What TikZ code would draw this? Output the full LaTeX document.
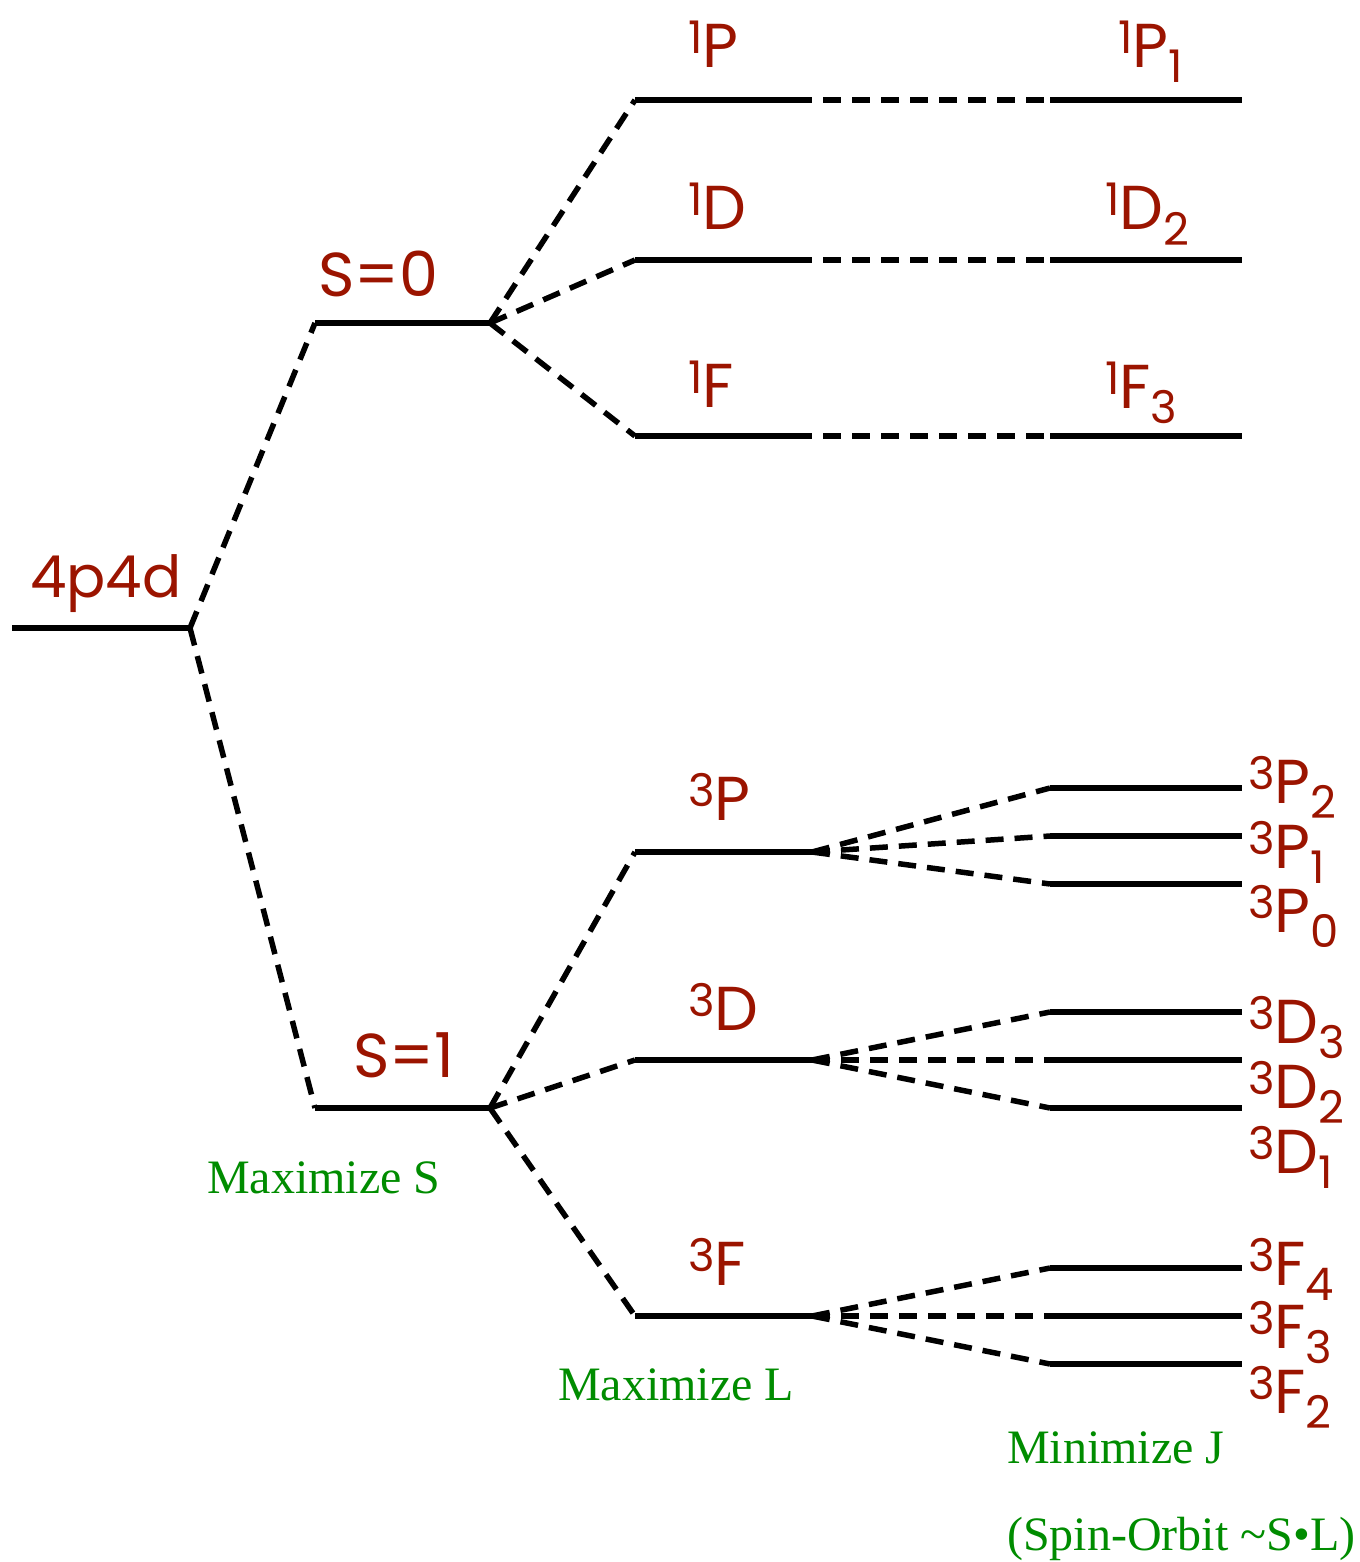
\documentclass[tikz,border=0pt]{standalone}
\usepackage{fontspec}
\setmainfont{Liberation Serif}
\newfontfamily\termfont{Poppins}
\definecolor{termred}{RGB}{155,20,0}
\definecolor{rulegreen}{RGB}{0,140,0}
\newcommand\bigterm{\termfont\fontsize{62}{62}\selectfont}
\newcommand\smallterm{\termfont\fontsize{45}{45}\selectfont}
% term symbol: superscript multiplicity, letter, subscript J
\newcommand\tsym[3]{\raisebox{14pt}{\smallterm #1}#2\raisebox{-15pt}{\smallterm #3}}

\begin{document}
\begin{tikzpicture}[x=1pt,y=-1pt,
  level/.style={line width=6.5pt},
  link/.style={line width=5.5pt, dash pattern=on 18pt off 11pt},
  flatlink/.style={link, dash phase=18pt},
  term/.style={text=termred, font=\bigterm, inner sep=0pt, anchor=base west},
  rulelbl/.style={text=rulegreen, font=\fontsize{48}{48}\selectfont, inner sep=0pt, anchor=base west}]
\useasboundingbox (0,0) rectangle (1359,1562);

% ---- level end points ----
\coordinate (g-l) at (12,628);   \coordinate (g-r) at (190,628);
\coordinate (s0-l) at (315,323); \coordinate (s0-r) at (490,323);
\coordinate (s1-l) at (315,1108);\coordinate (s1-r) at (490,1108);
\coordinate (p1-l) at (635,100); \coordinate (p1-r) at (812,100);
\coordinate (d1-l) at (635,260); \coordinate (d1-r) at (812,260);
\coordinate (f1-l) at (635,436); \coordinate (f1-r) at (812,436);
\coordinate (p1j-l) at (1050,100); \coordinate (p1j-r) at (1242,100);
\coordinate (d1j-l) at (1050,260); \coordinate (d1j-r) at (1242,260);
\coordinate (f1j-l) at (1050,436); \coordinate (f1j-r) at (1242,436);
\coordinate (p3-l) at (635,852);  \coordinate (p3-r) at (812,852);
\coordinate (d3-l) at (635,1060); \coordinate (d3-r) at (812,1060);
\coordinate (f3-l) at (635,1316); \coordinate (f3-r) at (812,1316);
\coordinate (p32-l) at (1050,788);  \coordinate (p32-r) at (1242,788);
\coordinate (p31-l) at (1050,836);  \coordinate (p31-r) at (1242,836);
\coordinate (p30-l) at (1050,884);  \coordinate (p30-r) at (1242,884);
\coordinate (d33-l) at (1050,1012); \coordinate (d33-r) at (1242,1012);
\coordinate (d32-l) at (1050,1060); \coordinate (d32-r) at (1242,1060);
\coordinate (d31-l) at (1050,1108); \coordinate (d31-r) at (1242,1108);
\coordinate (f34-l) at (1050,1268); \coordinate (f34-r) at (1242,1268);
\coordinate (f33-l) at (1050,1316); \coordinate (f33-r) at (1242,1316);
\coordinate (f32-l) at (1050,1364); \coordinate (f32-r) at (1242,1364);

% ---- levels ----
\foreach \lv in {g,s0,s1,p1,d1,f1,p1j,d1j,f1j,p3,d3,f3,p32,p31,p30,d33,d32,d31,f34,f33,f32}
  \draw[level] (\lv-l) -- (\lv-r);

% ---- dashed correlation lines ----
\draw[link] (g-r) -- (s0-l);
\draw[link] (g-r) -- (s1-l);
\foreach \t in {p1,d1,f1} \draw[link] (s0-r) -- (\t-l);
\foreach \t in {p3,d3,f3} \draw[link] (s1-r) -- (\t-l);
\draw[flatlink] (p1-r) -- (p1j-l);
\draw[flatlink] (d1-r) -- (d1j-l);
\draw[flatlink] (f1-r) -- (f1j-l);
\foreach \t in {p32,p31,p30} \draw[link] (p3-r) -- (\t-l);
\foreach \t in {d33,d32,d31} \draw[link] (d3-r) -- (\t-l);
\foreach \t in {f34,f33,f32} \draw[link] (f3-r) -- (\t-l);

% ---- configuration and terms ----
\node[term, font=\termfont\fontsize{58}{58}\selectfont] (cfg) at (30,597) {4p4d};
\node[term] (lbl-s0) at (318,296) {S=0};
\node[term] (lbl-s1) at (353,1077) {S=1};
\node[term] (lbl-p1) at (688,68) {\tsym{1}{P}{}};
\node[term] (lbl-d1) at (688,230) {\tsym{1}{D}{}};
\node[term] (lbl-f1) at (688,407) {\tsym{1}{F}{}};
\node[term] (lbl-p1j) at (1118,68) {\tsym{1}{P}{1}};
\node[term] (lbl-d1j) at (1105,230) {\tsym{1}{D}{2}};
\node[term] (lbl-f1j) at (1105,408) {\tsym{1}{F}{3}};
\node[term] (lbl-p3) at (688,820) {\tsym{3}{P}{}};
\node[term] (lbl-d3) at (688,1030) {\tsym{3}{D}{}};
\node[term] (lbl-f3) at (688,1285) {\tsym{3}{F}{}};
\node[term] (lbl-p32) at (1248,803) {\tsym{3}{P}{2}};
\node[term] (lbl-p31) at (1248,868) {\tsym{3}{P}{1}};
\node[term] (lbl-p30) at (1248,932) {\tsym{3}{P}{0}};
\node[term] (lbl-d33) at (1248,1043) {\tsym{3}{D}{3}};
\node[term] (lbl-d32) at (1248,1108) {\tsym{3}{D}{2}};
\node[term] (lbl-d31) at (1248,1173) {\tsym{3}{D}{1}};
\node[term] (lbl-f34) at (1248,1285) {\tsym{3}{F}{4}};
\node[term] (lbl-f33) at (1248,1348) {\tsym{3}{F}{3}};
\node[term] (lbl-f32) at (1248,1413) {\tsym{3}{F}{2}};

% ---- Hund's rules ----
\node[rulelbl] (hund-s) at (207,1193) {Maximize S};
\node[rulelbl] (hund-l) at (558,1400) {Maximize L};
\node[rulelbl] (hund-j) at (1007,1463) {Minimize J};
\node[rulelbl] (hund-so) at (1007,1550) {(Spin-Orbit \textasciitilde S•L)};
\end{tikzpicture}
\end{document}
